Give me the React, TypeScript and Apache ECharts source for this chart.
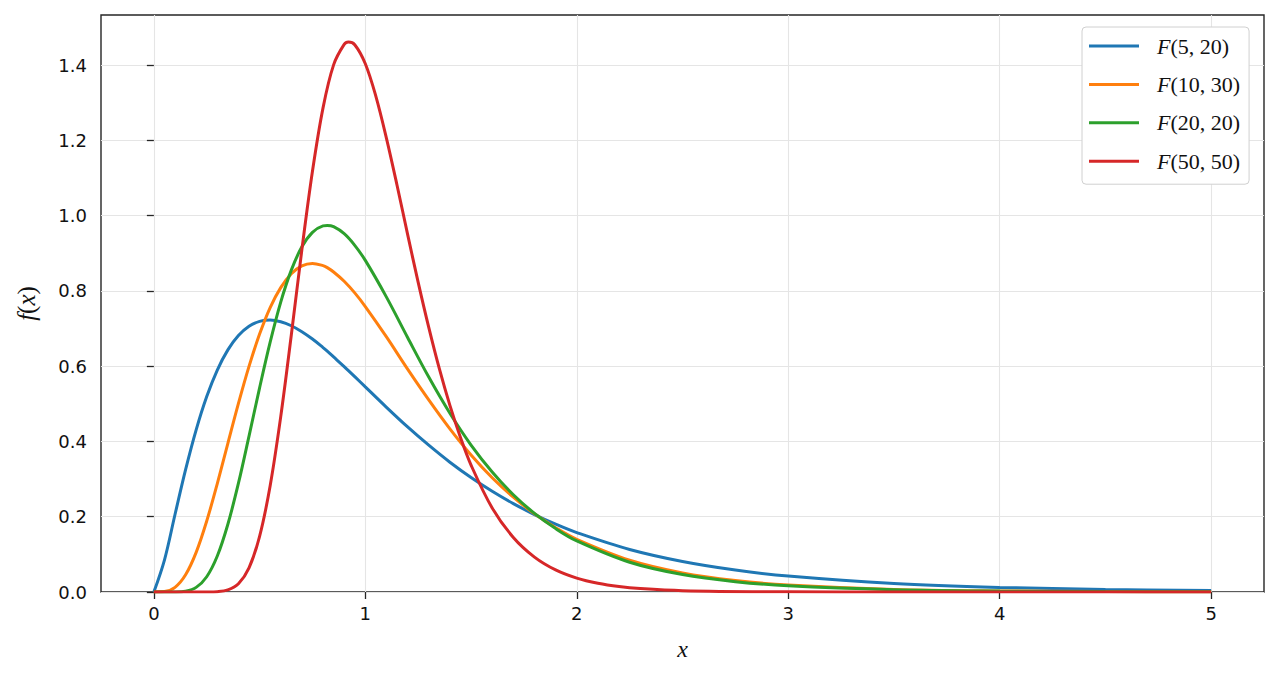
import React, { useEffect, useRef } from "react";
import * as echarts from "echarts";

// x positions used for the three wider curves
const xA = [0, 0.05, 0.1, 0.15, 0.2, 0.25, 0.3, 0.35, 0.4, 0.45, 0.5, 0.55, 0.6, 0.65, 0.7, 0.75, 0.8, 0.82, 0.85, 0.9, 0.95, 1.0, 1.1, 1.2, 1.3, 1.4, 1.5, 1.6, 1.7, 1.8, 1.9, 2.0, 2.25, 2.5, 2.75, 3.0, 3.5, 4.0, 4.5, 5.0];
const f5_20 = [0, 0.0849, 0.2059, 0.3251, 0.4309, 0.5194, 0.5898, 0.6433, 0.6813, 0.7059, 0.719, 0.7226, 0.7181, 0.7074, 0.6916, 0.6721, 0.6495, 0.6398, 0.6245, 0.5989, 0.5722, 0.5449, 0.4907, 0.4385, 0.39, 0.3448, 0.3041, 0.2675, 0.2348, 0.2058, 0.1802, 0.1578, 0.113, 0.0811, 0.0584, 0.0422, 0.0225, 0.0122, 0.0069, 0.0039];
const f10_30 = [0, 0.0011, 0.0124, 0.0457, 0.1053, 0.1886, 0.2881, 0.3951, 0.5012, 0.5995, 0.6852, 0.7558, 0.8087, 0.8457, 0.8665, 0.8728, 0.8671, 0.8618, 0.8503, 0.8256, 0.7947, 0.7585, 0.6778, 0.5922, 0.5105, 0.4336, 0.3642, 0.3037, 0.252, 0.2078, 0.1709, 0.14, 0.0845, 0.0508, 0.0306, 0.0185, 0.0069, 0.0027, 0.0011, 0.0005];
const f20_20 = [0, 0, 0.0001, 0.0022, 0.0123, 0.0406, 0.0956, 0.18, 0.289, 0.4142, 0.5425, 0.6637, 0.7703, 0.8551, 0.9171, 0.9555, 0.9727, 0.9738, 0.9706, 0.952, 0.9211, 0.881, 0.7835, 0.6762, 0.5711, 0.475, 0.3905, 0.3189, 0.2583, 0.2089, 0.1684, 0.1357, 0.079, 0.0463, 0.0275, 0.0165, 0.0063, 0.0025, 0.0011, 0.0005];
// x positions for the narrow curve
const xB = [0, 0.1, 0.2, 0.25, 0.3, 0.35, 0.4, 0.45, 0.5, 0.55, 0.6, 0.65, 0.7, 0.75, 0.8, 0.85, 0.9, 0.92, 0.95, 1.0, 1.05, 1.1, 1.15, 1.2, 1.25, 1.3, 1.35, 1.4, 1.45, 1.5, 1.6, 1.7, 1.8, 1.9, 2.0, 2.1, 2.2, 2.3, 2.5, 3.0, 3.5, 4.0, 4.5, 5.0];
const f50_50 = [0, 0, 0, 0.0001, 0.0009, 0.0055, 0.022, 0.0642, 0.1477, 0.2824, 0.4659, 0.6827, 0.9096, 1.1177, 1.2863, 1.4005, 1.4548, 1.461, 1.454, 1.4036, 1.3169, 1.2054, 1.0807, 0.9503, 0.8227, 0.703, 0.5932, 0.4958, 0.4106, 0.3371, 0.2232, 0.1449, 0.0928, 0.0587, 0.0369, 0.0231, 0.0144, 0.0091, 0.0035, 0.0004, 0, 0, 0, 0];

const seriesNames = ["F(5, 20)", "F(10, 30)", "F(20, 20)", "F(50, 50)"];
const legendArgs = ["(5, 20)", "(10, 30)", "(20, 20)", "(50, 50)"];
const colors = ["#1f77b4", "#ff7f0e", "#2ca02c", "#d62728"];
const xTicks = [0, 1, 2, 3, 4, 5];
const yTicks = [0, 0.2, 0.4, 0.6, 0.8, 1.0, 1.2, 1.4];

const zip = (xs: number[], ys: number[]) => xs.map((x, i) => [x, ys[i]]);

export default function App() {
  const ref = useRef<HTMLDivElement>(null);
  useEffect(() => {
    if (!ref.current) return;
    const chart = echarts.init(ref.current, null, { renderer: "svg" });
    const seriesData = [zip(xA, f5_20), zip(xA, f10_30), zip(xA, f20_20), zip(xB, f50_50)];
    const serif = "'Liberation Serif', 'DejaVu Serif', serif";
    const sans = "'DejaVu Sans', sans-serif";
    chart.setOption({
      animation: false,
      backgroundColor: "#ffffff",
      grid: {
        left: 101,
        right: 15,
        top: 15,
        bottom: 84,
        show: true,
        borderColor: "#262626",
        borderWidth: 1.4,
        backgroundColor: "transparent",
      },
      legend: {
        orient: "vertical",
        left: 1082,
        top: 27,
        padding: [8, 9, 12, 7],
        itemGap: 16.4,
        itemWidth: 50,
        itemHeight: 3,
        icon: "rect",
        backgroundColor: "#ffffff",
        borderColor: "#d0d0d0",
        borderWidth: 1,
        borderRadius: 4,
        data: seriesNames,
        formatter: (name: string) => {
          const idx = seriesNames.indexOf(name);
          return "{i|F}{n|" + legendArgs[idx] + "}";
        },
        textStyle: {
          padding: [0, 0, 0, 13],
          rich: {
            i: { fontFamily: serif, fontStyle: "italic", fontSize: 22, color: "#111", lineHeight: 24 },
            n: { fontFamily: serif, fontSize: 22, color: "#111", lineHeight: 24 },
          },
        },
      },
      xAxis: {
        type: "value",
        min: -0.25,
        max: 5.25,
        name: "x",
        nameLocation: "middle",
        nameGap: 45,
        nameTextStyle: { fontFamily: serif, fontStyle: "italic", fontSize: 24, color: "#111" },
        axisLine: { show: false },
        axisTick: { show: true, inside: false, length: 7, customValues: xTicks, lineStyle: { color: "#262626", width: 1.3 } },
        axisLabel: {
          customValues: xTicks,
          formatter: (v: number) => String(v),
          fontFamily: sans,
          fontSize: 18,
          color: "#111",
          margin: 12,
        },
        splitLine: { show: true, lineStyle: { color: "#e5e5e5", width: 1.1 } },
      },
      yAxis: {
        type: "value",
        min: 0,
        max: 1.533,
        name: "{i|f}{n|(}{i|x}{n|)}",
        nameLocation: "middle",
        nameGap: 62,
        nameRotate: 90,
        nameTextStyle: {
          rich: {
            i: { fontFamily: serif, fontStyle: "italic", fontSize: 25, color: "#111" },
            n: { fontFamily: serif, fontSize: 25, color: "#111" },
          },
        },
        axisLine: { show: false },
        axisTick: { show: true, inside: false, length: 7, customValues: yTicks, lineStyle: { color: "#262626", width: 1.3 } },
        axisLabel: {
          customValues: yTicks,
          formatter: (v: number) => v.toFixed(1),
          fontFamily: sans,
          fontSize: 18,
          color: "#111",
          margin: 14,
        },
        splitLine: { show: true, lineStyle: { color: "#e5e5e5", width: 1.1 } },
      },
      series: seriesNames.map((name, i) => ({
        name,
        type: "line",
        data: seriesData[i],
        showSymbol: false,
        smooth: 0.35,
        color: colors[i],
        lineStyle: { width: 3, color: colors[i] },
        z: 2 + i,
      })),
    });
    return () => chart.dispose();
  }, []);
  return (
    <div
      ref={ref}
      style={{ position: "absolute", left: 0, top: 0, width: 1279, height: 676 }}
    />
  );
}
